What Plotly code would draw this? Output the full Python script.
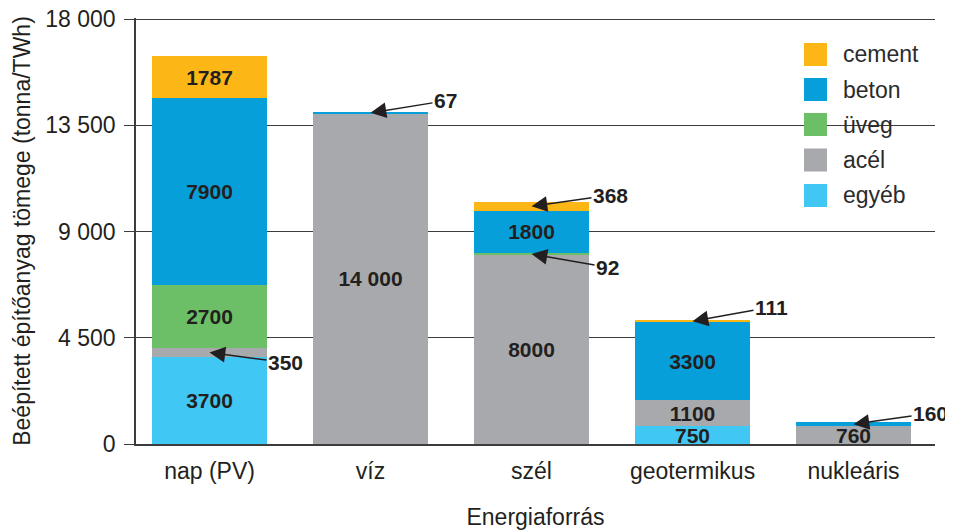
import plotly.graph_objects as go

# categories and stacked series (bottom -> top)
categories = ["nap (PV)", "víz", "szél", "geotermikus", "nukleáris"]
egyeb = [3700, None, None, 750, None]
acel = [350, 14000, 8000, 1100, 760]
uveg = [2700, None, 92, None, None]
beton = [7900, 67, 1800, 3300, 160]
cement = [1787, None, 368, 111, None]

series_names = ["egyéb", "acél", "üveg", "beton", "cement"]
series_values = [egyeb, acel, uveg, beton, cement]
series_colors = ["#41c7f4", "#a7a9ac", "#6cbf67", "#079fd9", "#fcb716"]

y_ticks = [0, 4500, 9000, 13500, 18000]
y_ticktext = ["0", "4 500", "9 000", "13 500", "18 000"]

# small segments that get an arrow callout: (category, series, dx, dy)
callouts = [
    ("nap (PV)", "acél", 76, 10),
    ("víz", "beton", 75, -12),
    ("szél", "cement", 79, -11),
    ("szél", "üveg", 76, 13),
    ("geotermikus", "cement", 79, -14),
    ("nukleáris", "beton", 77, -11),
]

INK = "#231f20"
LINE = "#3c3c3c"
FONT = "Arial, Liberation Sans, sans-serif"

# the page body has an 8px margin, so the figure is a bit smaller than the window
OFF = 8
W, H = 953 - OFF, 530 - OFF
L, T = 136 - OFF, 18 - OFF
R, B = W - (935 - OFF), H - (444 - OFF)


def fmt(v):
    if v >= 10000:
        return f"{v:,}".replace(",", " ")
    return str(v)


# page pixel -> paper coordinates
def px_x(p):
    return (p - OFF - L) / (W - L - R)


def px_y(p):
    return (H - B - (p - OFF)) / (H - T - B)


fig = go.Figure()

for name, vals, col in zip(series_names, series_values, series_colors):
    txt = []
    for v in vals:
        if v is None or v < 700:
            txt.append("")
        else:
            txt.append(fmt(v))
    fig.add_trace(go.Bar(
        x=categories, y=vals, name=name,
        marker=dict(color=col, line=dict(width=0)),
        text=txt, textposition="inside", insidetextanchor="middle",
        textangle=0, constraintext="none",
        insidetextfont=dict(family=FONT, size=21, color=INK, weight="bold"),
        showlegend=False,
    ))

# arrow callouts for the thin segments
for cat, ser, dx, dy in callouts:
    i = categories.index(cat)
    k = series_names.index(ser)
    base = sum(series_values[j][i] or 0 for j in range(k))
    v = series_values[k][i]
    fig.add_annotation(
        x=cat, y=base + v / 2, text=fmt(v),
        showarrow=True, ax=dx, ay=dy,
        arrowhead=2, arrowsize=2.1, arrowwidth=1.5, arrowcolor=INK,
        font=dict(family=FONT, size=21, color=INK, weight="bold"),
    )

# legend drawn by hand (big square swatches, top -> bottom = reverse stack)
leg_y = [54.5, 89.5, 124.5, 160, 195.5]
for yy, name, col in zip(leg_y, series_names[::-1], series_colors[::-1]):
    fig.add_shape(type="rect", xref="paper", yref="paper",
                  x0=px_x(804), x1=px_x(827), y0=px_y(yy + 11.5), y1=px_y(yy - 11.5),
                  fillcolor=col, line=dict(width=0))
    fig.add_annotation(xref="paper", yref="paper", x=px_x(841), y=px_y(yy),
                       text=name, showarrow=False, xanchor="left", yanchor="middle",
                       font=dict(family=FONT, size=23, color="#2b2b2b"))

fig.update_layout(
    width=W, height=H,
    margin=dict(l=L, r=R, t=T, b=B, pad=0),
    barmode="stack", bargap=0.286,
    plot_bgcolor="white", paper_bgcolor="white",
    font=dict(family=FONT, size=23, color=INK),
    showlegend=False,
)
fig.update_xaxes(
    type="category", range=[-0.4565, 4.506], automargin=False,
    showline=True, linecolor=LINE, linewidth=1.5,
    ticks="", showgrid=False, ticklabelstandoff=6,
    tickfont=dict(size=23, color=INK),
    title=dict(text="Energiaforrás", font=dict(size=23, color=INK), standoff=26),
)
fig.update_yaxes(
    range=[0, 18050], tickvals=y_ticks, ticktext=y_ticktext, automargin=False,
    showgrid=True, gridcolor=LINE, gridwidth=1.3, zeroline=False,
    showline=True, linecolor=LINE, linewidth=1.5,
    ticks="outside", ticklen=10, tickcolor=LINE, tickwidth=1.3, ticklabelstandoff=4,
    ticklabeloverflow="allow",
    tickfont=dict(size=23, color=INK),
    title=dict(text="Beépített építőanyag tömege (tonna/TWh)",
               font=dict(size=23, color=INK), standoff=8),
)

fig.write_html("out.html")
